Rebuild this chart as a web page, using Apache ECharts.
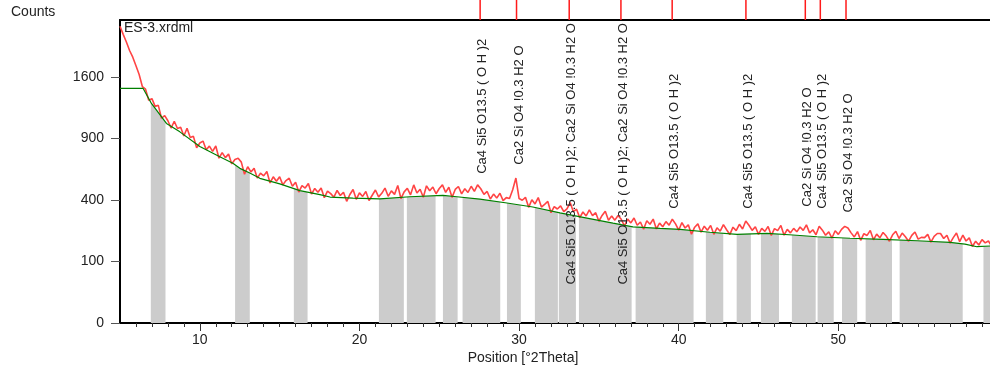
<!DOCTYPE html>
<html>
<head>
<meta charset="utf-8">
<script src="https://cdn.jsdelivr.net/npm/echarts@6/dist/echarts.min.js"></script>
<style>
  html, body { margin: 0; padding: 0; background: #fff; }
  #chart { width: 990px; height: 375px; }
</style>
</head>
<body>
<div id="chart"></div>
<script>
// ES-3.xrdml scan, one reading every 0.2 deg 2Theta from 5.0
const scanStart = 5.0;
const scanStep = 0.2;
const observedCounts = [
  2330, 2205, 2090, 1965, 1870, 1752, 1635, 1480,
  1447, 1313, 1332, 1242, 1254, 1110, 1138, 1083, 1006, 1077, 1001, 1015, 925, 1004, 911, 922, 813,
  858, 876, 794, 828, 780, 829, 719, 768, 724, 755, 670, 708, 718, 685, 586, 646,
  604, 633, 556, 594, 573, 607, 519, 566, 532, 566, 505, 537, 555, 495, 524, 454, 499, 482, 515, 440,
  479, 452, 483, 416, 460, 443, 419, 465, 430, 452, 392, 437, 472, 405, 448, 424, 458, 397, 432, 468, 421,
  445, 482, 425, 462, 438, 501, 410, 455, 480, 435, 505, 447, 474, 418, 498, 463, 489, 442, 479, 505,
  452, 488, 418, 472, 493, 441, 477, 451, 495, 459, 505, 477, 438, 458, 407, 440, 413, 446, 396, 416,
  410, 470, 556, 410, 399, 418, 354, 402,
  375, 416, 356, 373, 391, 322, 359, 344, 363, 328, 345, 384, 328, 343, 294, 326, 303,
  339, 305, 322, 274, 306, 331, 280, 303, 280, 306, 285, 249, 286, 265,
  292, 253, 270, 233, 277, 258, 286, 234, 264,
  245, 272, 253, 285, 260, 228, 267, 239, 255, 209, 243, 260, 218, 248, 228,
  252, 208, 240, 223, 256, 230, 207, 243, 226, 258, 234, 275, 253, 227, 245, 208, 237, 222,
  247, 203, 236, 226, 252, 204, 232, 215,
  237, 220, 244, 227, 255, 215, 230, 206,
  248, 228, 204, 220, 191, 225, 208, 232, 247, 239, 215,
  196, 221, 181, 211, 203, 227, 183, 209, 192, 217, 200, 177, 206, 223, 189, 214, 197, 177, 203, 219,
  186, 194, 193, 208, 173, 199, 212, 212, 189, 204,
  169, 193, 214, 175, 204, 178, 192, 155, 177, 161, 184, 170, 178, 157
];

// fitted background (green line)
const bgTheta = [5.0, 6.45, 6.97, 7.91, 8.75, 10.0, 11.25, 12.07, 12.51, 13.13, 13.76, 15.01, 16.27, 17.52,
  18.15, 19.59, 21.28, 23.16, 25.23, 26.10, 27.54, 29.24, 30.86, 32.56, 34.25, 35.88, 37.13, 38.82,
  40.08, 41.95, 43.65, 45.53, 47.16, 48.66, 50.73, 52.79, 54.93, 56.99, 57.93, 58.68, 59.5];
const bgCounts = [1456, 1456, 1276, 1054, 967, 824, 731, 676, 633, 595, 554, 512, 464, 436,
  420, 413, 408, 422, 431, 422, 406, 381, 356, 321, 291, 264, 245, 237,
  232, 218, 208, 213, 205, 197, 190, 185, 179, 172, 165, 154, 157];

// grey regions under the background
const bandStart = [6.93, 12.21, 15.89, 21.22, 22.97, 25.23, 26.46, 29.24, 30.99, 32.49, 33.75,
  37.30, 41.70, 43.63, 45.15, 47.09, 48.70, 50.23, 51.71, 53.84, 59.09];
const bandEnd = [7.85, 13.13, 16.75, 22.78, 24.77, 26.15, 28.82, 30.11, 32.43, 33.56, 37.05,
  40.93, 42.79, 44.52, 46.28, 48.58, 49.71, 51.18, 53.36, 57.79, 59.6];

// reference pattern sticks and phase names
const CSH = "Ca4 Si5 O13.5 ( O H )2";
const C2S = "Ca2 Si O4 !0.3 H2 O";
const stickTheta = [27.56, 29.84, 33.14, 36.38, 39.59, 44.21, 47.93, 48.87, 50.48];
const stickLabel = [CSH, C2S, CSH + "; " + C2S, CSH + "; " + C2S, CSH, CSH, C2S, CSH, C2S];
const labelAtCounts = [589, 663, 39, 39, 345, 345, 358, 345, 323];

const yTicks = [0, 100, 400, 900, 1600];
const xTicks = [10, 20, 30, 40, 50];
const xMinor = Array.from({ length: 54 }, (_, i) => i + 6);

const X_MIN = 5, X_MAX = 59.5, Y_MAX = Math.sqrt(2430);
const FONT = '"Liberation Sans", Arial, sans-serif';
const TXT = "#222";

const sq = c => Math.sqrt(c);
const observed = observedCounts.map((c, i) => [+(scanStart + i * scanStep).toFixed(2), sq(c)]);
const background = bgTheta.map((t, i) => [t, sq(bgCounts[i])]);

function bgSqrtAt(t) {
  for (let i = 1; i < bgTheta.length; i++) {
    if (t <= bgTheta[i]) {
      const f = (t - bgTheta[i - 1]) / (bgTheta[i] - bgTheta[i - 1]);
      return sq(bgCounts[i - 1]) + f * (sq(bgCounts[i]) - sq(bgCounts[i - 1]));
    }
  }
  return sq(bgCounts[bgCounts.length - 1]);
}

const chart = echarts.init(document.getElementById("chart"), null, { renderer: "canvas" });

const option = {
  animation: false,
  backgroundColor: "#fff",
  grid: [
    { left: 120, right: 0, top: 20, bottom: 52 },
    { left: 120, right: 0, top: 0, height: 20 },
    { left: 120, right: 0, top: 20, bottom: 52 }
  ],
  xAxis: [
    {
      gridIndex: 0, type: "value", min: X_MIN, max: X_MAX,
      axisLine: { lineStyle: { color: "#000", width: 2 } },
      axisTick: { customValues: xTicks, length: 8, lineStyle: { color: "#333" } },
      axisLabel: { customValues: xTicks, margin: 10, fontSize: 14, fontFamily: FONT, color: TXT },
      splitLine: { show: false }
    },
    {
      gridIndex: 0, type: "value", position: "top", min: X_MIN, max: X_MAX,
      axisLine: { lineStyle: { color: "#000", width: 2 } },
      axisTick: { show: false }, axisLabel: { show: false }, splitLine: { show: false }
    },
    { gridIndex: 1, type: "value", min: X_MIN, max: X_MAX, show: false },
    {
      gridIndex: 2, type: "value", min: X_MIN, max: X_MAX,
      axisLine: { show: false },
      axisTick: { customValues: xMinor, length: 4, lineStyle: { color: "#333" } },
      axisLabel: { show: false }, splitLine: { show: false }
    }
  ],
  yAxis: [
    {
      gridIndex: 0, type: "value", min: 0, max: Y_MAX,
      axisLine: { show: true, lineStyle: { color: "#000", width: 2 } },
      axisTick: { show: true, customValues: yTicks.map(sq), length: 9, lineStyle: { color: "#555" } },
      axisLabel: {
        customValues: yTicks.map(sq), margin: 16, fontSize: 14, fontFamily: FONT, color: TXT,
        formatter: v => String(Math.round(v * v))
      },
      splitLine: { show: false }
    },
    { gridIndex: 1, type: "value", min: 0, max: 1, show: false },
    { gridIndex: 2, type: "value", min: 0, max: 1, show: false }
  ],
  graphic: [
    { type: "text", x: 11, y: 12, style: { text: "Counts", font: "14px " + FONT, fill: TXT, verticalAlign: "middle" } },
    { type: "text", x: 124, y: 28, z: 100, style: { text: "ES-3.xrdml", font: "14px " + FONT, fill: TXT, verticalAlign: "middle" } },
    { type: "text", x: 523, y: 358, style: { text: "Position [°2Theta]", font: "14px " + FONT, fill: TXT, align: "center", verticalAlign: "middle" } }
  ],
  series: [
    {
      name: "bands", type: "custom", xAxisIndex: 0, yAxisIndex: 0, z: 1, clip: true,
      data: bandStart.map((s, i) => [s, bandEnd[i]]),
      encode: { x: [0, 1] },
      renderItem: (params, api) => {
        const t0 = api.value(0), t1 = api.value(1);
        const pts = [api.coord([t0, 0]), api.coord([t0, bgSqrtAt(t0)])];
        bgTheta.forEach((t, i) => {
          if (t > t0 && t < t1) pts.push(api.coord([t, sq(bgCounts[i])]));
        });
        pts.push(api.coord([t1, bgSqrtAt(t1)]), api.coord([t1, 0]));
        return { type: "polygon", shape: { points: pts }, style: { fill: "#cccccc" } };
      }
    },
    {
      name: "observed", type: "line", xAxisIndex: 0, yAxisIndex: 0, z: 2,
      data: observed, showSymbol: false, symbol: "none",
      lineStyle: { color: "#ff4444", width: 1.6 }
    },
    {
      name: "background", type: "line", xAxisIndex: 0, yAxisIndex: 0, z: 3,
      data: background, showSymbol: false, symbol: "none",
      lineStyle: { color: "#008000", width: 1.2 }
    },
    {
      name: "labels", type: "custom", xAxisIndex: 0, yAxisIndex: 0, z: 5,
      data: stickTheta.map((t, i) => [t, sq(labelAtCounts[i]), i]),
      renderItem: (params, api) => {
        const p = api.coord([api.value(0), api.value(1)]);
        return {
          type: "text", x: p[0] + 2.5, y: p[1], rotation: Math.PI / 2,
          style: { text: stickLabel[api.value(2)], font: "13px " + FONT, fill: TXT, align: "left", verticalAlign: "middle" }
        };
      }
    },
    {
      name: "sticks", type: "bar", xAxisIndex: 2, yAxisIndex: 1,
      data: stickTheta.map(t => [t, 1]), barWidth: 1.5,
      itemStyle: { color: "#ff1a1a" }
    }
  ]
};

chart.setOption(option);
</script>
</body>
</html>
